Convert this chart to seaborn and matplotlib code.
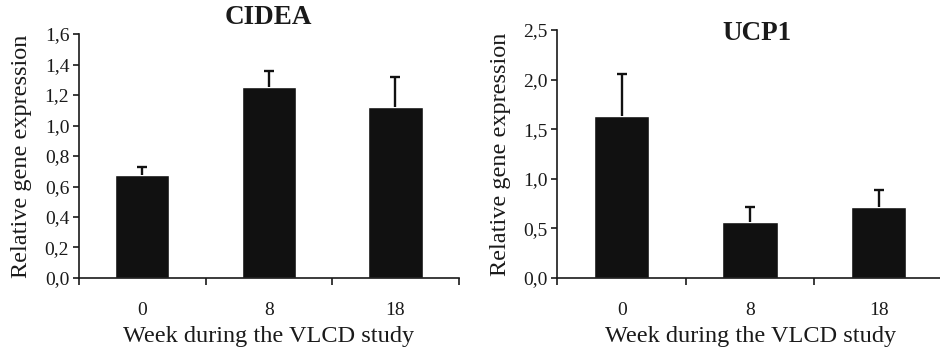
import pandas as pd
import matplotlib
matplotlib.use("Agg")
import matplotlib.pyplot as plt
import seaborn as sns

# data
weeks = ["0", "8", "18"]
cidea_mean = [0.675, 1.255, 1.124]
cidea_err = [0.055, 0.10, 0.196]
ucp1_mean = [1.633, 0.565, 0.719]
ucp1_err = [0.427, 0.151, 0.171]

sns.set_style("ticks")
plt.rcParams["font.family"] = ["Liberation Serif", "DejaVu Serif"]
plt.rcParams["axes.linewidth"] = 1.2
plt.rcParams["text.color"] = "#1a1a1a"
plt.rcParams["axes.labelcolor"] = "#1a1a1a"
plt.rcParams["xtick.color"] = "#1a1a1a"
plt.rcParams["ytick.color"] = "#1a1a1a"
plt.rcParams["axes.edgecolor"] = "#1a1a1a"

fig = plt.figure(figsize=(9.4, 3.51), dpi=100)
ax1 = fig.add_axes([0.084, 0.208, 0.404, 0.695])
ax2 = fig.add_axes([0.593, 0.208, 0.410, 0.7065])


def draw(ax, means, errs, ymax, yticks, ylabs):
    df = pd.DataFrame({"week": weeks, "value": means})
    sns.barplot(data=df, x="week", y="value", color="#111111",
                width=0.43, saturation=1, errorbar=None, ax=ax)
    _, caps, _ = ax.errorbar(range(len(means)), means,
                             yerr=[[0] * len(errs), errs],
                             fmt="none", ecolor="#111111", elinewidth=1.7,
                             capsize=3.3, capthick=1.7)
    caps[0].set_visible(False)  # only upper whisker
    ax.set_xlim(-0.5, 2.5)
    ax.set_ylim(0, ymax)
    ax.set_yticks(yticks)
    ax.set_yticklabels(ylabs, fontsize=14)
    ax.set_xticks(range(3))
    ax.set_xticklabels(weeks, fontsize=14)
    ax.set_xticks([-0.5, 0.5, 1.5, 2.5], minor=True)
    ax.tick_params(axis="x", which="major", length=0, pad=17)
    ax.tick_params(axis="x", which="minor", length=5, width=1.2, direction="out")
    ax.tick_params(axis="y", length=4, width=1.2, direction="out", pad=3)
    ax.set_xlabel("Week during the VLCD study", fontsize=17.5, labelpad=5)
    ax.set_ylabel("Relative gene expression", fontsize=17.5, labelpad=9)
    sns.despine(ax=ax)


draw(ax1, cidea_mean, cidea_err, 1.6,
     [0, 0.2, 0.4, 0.6, 0.8, 1.0, 1.2, 1.4, 1.6],
     ["0,0", "0,2", "0,4", "0,6", "0,8", "1,0", "1,2", "1,4", "1,6"])
ax1.set_title("CIDEA", fontsize=19.5, fontweight="bold", pad=7)

draw(ax2, ucp1_mean, ucp1_err, 2.5,
     [0, 0.5, 1.0, 1.5, 2.0, 2.5],
     ["0,0", "0,5", "1,0", "1,5", "2,0", "2,5"])
ax2.text(0.518, 0.985, "UCP1", transform=ax2.transAxes, ha="center",
         va="center", fontsize=19.5, fontweight="bold")

fig.savefig("out.png", dpi=100)
